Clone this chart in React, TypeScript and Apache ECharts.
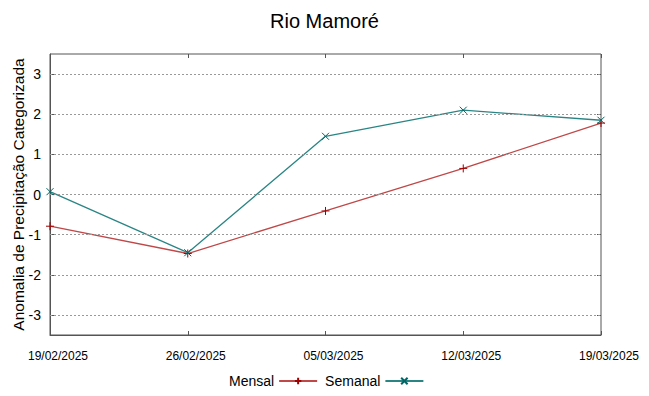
import React, { useEffect, useRef } from "react";
import * as echarts from "echarts";

const categories = ["19/02/2025", "26/02/2025", "05/03/2025", "12/03/2025", "19/03/2025"];
const mensal = [-0.79, -1.47, -0.41, 0.65, 1.78];
const semanal = [0.07, -1.45, 1.45, 2.1, 1.85];
const yTicks = [-3, -2, -1, 0, 1, 2, 3];

const PLUS = "path://M0,5L10,5M5,0L5,10";
const CROSS = "path://M0,0L10,10M10,0L0,10";

export default function App() {
  const ref = useRef<HTMLDivElement>(null);
  useEffect(() => {
    if (!ref.current) return;
    const chart = echarts.init(ref.current, null, { renderer: "svg" });
    const font = "'Liberation Sans', Arial, sans-serif";
    const tickStyle = { color: "#555", width: 1 };
    chart.setOption({
      animation: false,
      backgroundColor: "#ffffff",
      textStyle: { fontFamily: font },
      title: {
        text: "Rio Mamoré",
        left: "center",
        top: 6,
        textStyle: { fontSize: 20, fontWeight: "normal", color: "#000", fontFamily: font },
      },
      grid: {
        left: 50,
        right: 48,
        top: 54,
        bottom: 61,
        show: true,
        borderColor: "#555",
        borderWidth: 1,
        containLabel: false,
        outerBoundsMode: "none",
      },
      legend: {
        bottom: 3,
        left: 224,
        align: "right",
        itemWidth: 38,
        itemHeight: 8,
        itemGap: 7,
        textStyle: { fontSize: 14, color: "#000", fontFamily: font },
        data: ["Mensal", "Semanal"],
      },
      xAxis: [
        {
          type: "category",
          data: categories,
          boundaryGap: false,
          axisLine: { show: true, onZero: false, lineStyle: { color: "#555" } },
          axisTick: { show: true, inside: true, length: 4, lineStyle: tickStyle },
          axisLabel: {
            fontSize: 12,
            color: "#000",
            margin: 15,
            padding: [0, 0, 0, 16],
            fontFamily: font,
            showMinLabel: true,
            showMaxLabel: true,
            interval: 0,
          },
          splitLine: { show: false },
        },
        {
          type: "category",
          data: categories,
          position: "top",
          boundaryGap: false,
          axisLine: { show: false, onZero: false },
          axisTick: { show: true, inside: true, length: 4, lineStyle: tickStyle },
          axisLabel: { show: false },
          splitLine: { show: false },
        },
      ],
      yAxis: [
        {
          type: "value",
          min: -3.5,
          max: 3.5,
          name: "Anomalia de Precipitação Categorizada",
          nameLocation: "middle",
          nameGap: 24,
          nameMoveOverlap: false,
          nameTextStyle: { fontSize: 15.5, color: "#000", fontFamily: font },
          axisLine: { show: true, onZero: false, lineStyle: { color: "#555" } },
          axisLabel: {
            fontSize: 14,
            color: "#000",
            margin: 9,
            fontFamily: font,
            customValues: yTicks,
          },
          axisTick: { show: true, inside: true, length: 4, lineStyle: tickStyle, customValues: yTicks },
          splitLine: { show: false },
        },
        {
          type: "value",
          min: -3.5,
          max: 3.5,
          position: "right",
          axisLine: { show: false, onZero: false },
          axisTick: { show: true, inside: true, length: 4, lineStyle: tickStyle, customValues: yTicks },
          axisLabel: { show: false, customValues: yTicks },
          splitLine: { show: false },
        },
      ],
      series: [
        {
          name: "Gridlines",
          type: "line",
          data: [],
          markLine: {
            silent: true,
            symbol: "none",
            label: { show: false },
            lineStyle: { color: "#999", type: [2, 2], width: 1 },
            data: yTicks.map((v) => ({ yAxis: v })),
          },
        },
        {
          name: "Mensal",
          type: "line",
          data: mensal,
          symbol: PLUS,
          symbolSize: 8,
          lineStyle: { color: "#c04848", width: 1.3 },
          itemStyle: { color: "#a00000", borderColor: "#a00000", borderWidth: 1 },
          z: 3,
        },
        {
          name: "Semanal",
          type: "line",
          data: semanal,
          symbol: CROSS,
          symbolSize: 7,
          lineStyle: { color: "#2a8585", width: 1.3 },
          itemStyle: { color: "#006565", borderColor: "#006565", borderWidth: 1 },
          z: 4,
        },
      ],
    });
    return () => chart.dispose();
  }, []);
  return <div ref={ref} style={{ width: 649, height: 396, margin: -8 }} />;
}
